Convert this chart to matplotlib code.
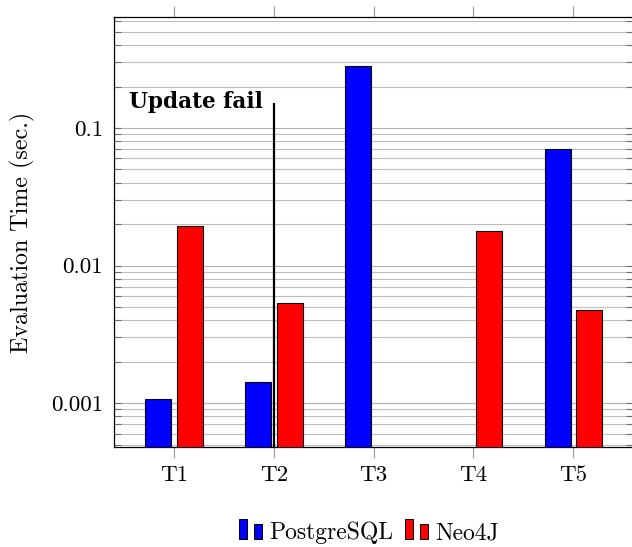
import numpy as np
import matplotlib
matplotlib.use("Agg")
import matplotlib.pyplot as plt
from matplotlib.patches import Rectangle
from matplotlib.legend_handler import HandlerBase
from matplotlib.ticker import FixedLocator, FixedFormatter, LogLocator, NullFormatter

# ---- data ----
categories = ["T1", "T2", "T3", "T4", "T5"]
postgresql = [0.00107, 0.00142, 0.282, np.nan, 0.0703]
neo4j = [0.0194, 0.00538, np.nan, 0.0177, 0.00479]
ytick_vals = [0.001, 0.01, 0.1]
ytick_labels = ["0.001", "0.01", "0.1"]
fail_category = "T2"
fail_top = 0.152
fail_text = "Update fail"
fail_text_y = 0.1398

plt.rcParams['font.family'] = ['cmr10', 'DejaVu Serif']
plt.rcParams['axes.formatter.use_mathtext'] = True
FS = 16.6

fig = plt.figure(figsize=(6.32, 5.47), dpi=100)
ax = fig.add_axes([114/632, 1-447/547, (632-114)/632 + 0.002, (447-17)/547])

x = np.arange(len(categories))
w = 0.26
off = 0.158
blue = "#0000ff"
red = "#ff0000"
bp = ax.bar(x - off, postgresql, w, color=blue, edgecolor="black", linewidth=0.8, zorder=3, label="PostgreSQL")
bn = ax.bar(x + off, neo4j, w, color=red, edgecolor="black", linewidth=0.8, zorder=3, label="Neo4J")

ax.set_yscale("log")
ax.set_xlim(-0.6, len(categories) - 1 + 0.6)
ax.set_ylim(4.8e-4, 0.64)

ax.yaxis.set_major_locator(FixedLocator(ytick_vals))
ax.yaxis.set_major_formatter(FixedFormatter(ytick_labels))
ax.yaxis.set_minor_locator(LogLocator(base=10, subs=np.arange(2, 10)))
ax.yaxis.set_minor_formatter(NullFormatter())
ax.set_xticks(x)
ax.set_xticklabels(categories)

ax.grid(True, axis="y", which="major", color="#b0b0b0", linewidth=0.8, zorder=0)
ax.grid(True, axis="y", which="minor", color="#bebebe", linewidth=0.8, zorder=0)
ax.set_axisbelow(True)

ax.tick_params(axis="x", which="major", direction="out", top=True, bottom=True,
               length=8, width=0.9, color="#a0a0a0", labelsize=FS, pad=5)
ax.tick_params(axis="y", which="both", direction="in", left=True, right=True,
               length=5, width=0.8, color="#707070", labelsize=FS, pad=8)
for s in ax.spines.values():
    s.set_linewidth(0.9)
    s.set_color("black")

ax.set_ylabel("Evaluation Time (sec.)", fontsize=17.3)
ax.yaxis.set_label_coords(-0.152, 0.5)

# failure marker
fx = categories.index(fail_category)
ax.plot([fx, fx], [ax.get_ylim()[0], fail_top], color="black", linewidth=1.6, zorder=4, solid_capstyle="butt")
ax.text(fx - 0.105, fail_text_y, fail_text, family=["DejaVu Serif"], fontweight="bold", fontsize=15.6,
        ha="right", va="baseline", zorder=5)


class TwoBarHandler(HandlerBase):
    def create_artists(self, legend, orig_handle, xdescent, ydescent, width, height, fontsize, trans):
        fc = orig_handle.get_facecolor()
        y0 = -ydescent
        r1 = Rectangle((-xdescent, y0), 0.35 * width, 1.21 * height, facecolor=fc,
                       edgecolor="black", linewidth=0.7, transform=trans)
        r2 = Rectangle((-xdescent + 0.64 * width, y0), 0.36 * width, 0.91 * height, facecolor=fc,
                       edgecolor="black", linewidth=0.7, transform=trans)
        return [r1, r2]


h1 = bp.patches[0]
h2 = bn.patches[0]
fig.legend([h1, h2], ["PostgreSQL", "Neo4J"], loc="center",
           bbox_to_anchor=(369/632, 1 - 533/547), ncol=2, frameon=False, fontsize=17,
           handler_map={type(h1): TwoBarHandler()}, handlelength=0.98, handletextpad=0.32,
           columnspacing=0.47, borderaxespad=0, borderpad=0)

fig.savefig("out.png", dpi=100)
